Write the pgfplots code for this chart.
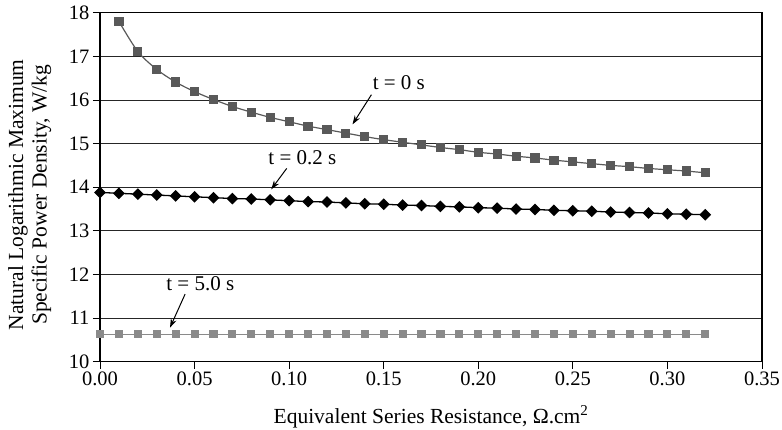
\documentclass[border=0pt]{standalone}
\usepackage{fontspec}
\setmainfont{Liberation Serif}
\usepackage{pgfplots}
\pgfplotsset{compat=1.18}
\usetikzlibrary{arrows.meta}
\definecolor{sdark}{HTML}{595959}
\definecolor{slight}{HTML}{8A8A8A}
\begin{document}
\begin{tikzpicture}[font=\fontsize{21bp}{25bp}\selectfont]
\path[use as bounding box] (-100bp,-68.3bp) rectangle (682bp,361.7bp);
\begin{axis}[
  scale only axis, width=662bp, height=349bp,
  xmin=0, xmax=0.35, ymin=10, ymax=18,
  xtick={0,0.05,0.1,0.15,0.2,0.25,0.3,0.35},
  ytick={10,11,12,13,14,15,16,17,18},
  xtick pos=bottom, ytick pos=left,
  tick align=outside, major tick length=7bp,
  tick style={black, line width=0.9bp},
  ymajorgrids, grid style={black!85, line width=0.8bp},
  axis line style={black, line width=1.3bp},
  xticklabel style={/pgf/number format/.cd, fixed, fixed zerofill, precision=2, assume math mode=true},
  yticklabel style={/pgf/number format/assume math mode=true},
  ticklabel style={font=\fontsize{20.5bp}{24bp}\selectfont},
  xlabel={Equivalent Series Resistance, Ω.cm\textsuperscript{2}},
  xlabel style={at={(axis description cs:0.5,-0.158)}, anchor=center, font=\fontsize{21.5bp}{25bp}\selectfont},
  ylabel={Natural Logarithmic Maximum\\Specific Power Density, W/kg},
  ylabel style={at={(axis description cs:-0.106,0.478)}, anchor=center, align=center, font=\fontsize{21.5bp}{23.5bp}\selectfont},
  clip=false,
]
\addplot[color=sdark, line width=1.2bp, smooth, mark=square*, mark size=4bp, mark options={solid, fill=sdark, draw=sdark}] coordinates {
(0.01,17.80) (0.02,17.11) (0.03,16.70) (0.04,16.41) (0.05,16.19) (0.06,16.01) (0.07,15.85) (0.08,15.72)
(0.09,15.60) (0.10,15.50) (0.11,15.40) (0.12,15.32) (0.13,15.24) (0.14,15.16) (0.15,15.09) (0.16,15.03)
(0.17,14.97) (0.18,14.91) (0.19,14.86) (0.20,14.80) (0.21,14.76) (0.22,14.71) (0.23,14.67) (0.24,14.62)
(0.25,14.58) (0.26,14.54) (0.27,14.50) (0.28,14.47) (0.29,14.43) (0.30,14.40) (0.31,14.37) (0.32,14.33)
};
\addplot[color=black, line width=1.3bp, mark=square*, mark size=3.5bp, mark options={solid, fill=black, draw=black, rotate=45}] coordinates {
(0.00,13.88) (0.01,13.86) (0.02,13.84) (0.03,13.82) (0.04,13.80) (0.05,13.78) (0.06,13.76) (0.07,13.74)
(0.08,13.73) (0.09,13.71) (0.10,13.69) (0.11,13.67) (0.12,13.66) (0.13,13.64) (0.14,13.62) (0.15,13.61)
(0.16,13.59) (0.17,13.58) (0.18,13.56) (0.19,13.55) (0.20,13.53) (0.21,13.52) (0.22,13.50) (0.23,13.49)
(0.24,13.47) (0.25,13.46) (0.26,13.45) (0.27,13.43) (0.28,13.42) (0.29,13.41) (0.30,13.39) (0.31,13.38)
(0.32,13.37)
};
\addplot[color=slight, line width=1.3bp, mark=square*, mark size=3.4bp, mark options={solid, fill=slight, draw=slight}] coordinates {
(0.00,10.63) (0.01,10.63) (0.02,10.63) (0.03,10.63) (0.04,10.63) (0.05,10.63) (0.06,10.63) (0.07,10.63)
(0.08,10.63) (0.09,10.63) (0.10,10.63) (0.11,10.63) (0.12,10.63) (0.13,10.63) (0.14,10.63) (0.15,10.63)
(0.16,10.63) (0.17,10.63) (0.18,10.63) (0.19,10.63) (0.20,10.63) (0.21,10.63) (0.22,10.63) (0.23,10.63)
(0.24,10.63) (0.25,10.63) (0.26,10.63) (0.27,10.63) (0.28,10.63) (0.29,10.63) (0.30,10.63) (0.31,10.63)
(0.32,10.63)
};
\node[fill=white, inner sep=1.5bp] at (axis cs:0.158,16.40) {t = 0 s};
\draw[-{Stealth[length=9bp,width=6bp]}, line width=1bp] (axis cs:0.1435,16.12) -- (axis cs:0.1335,15.44);
\node[fill=white, inner sep=1.5bp] at (axis cs:0.107,14.67) {t = 0.2 s};
\draw[-{Stealth[length=9bp,width=6bp]}, line width=1bp] (axis cs:0.0987,14.43) -- (axis cs:0.0905,13.95);
\node[fill=white, inner sep=1.5bp] at (axis cs:0.053,11.80) {t = 5.0 s};
\draw[-{Stealth[length=9bp,width=6bp]}, line width=1bp] (axis cs:0.045,11.55) -- (axis cs:0.037,10.78);
\end{axis}
\end{tikzpicture}
\end{document}
